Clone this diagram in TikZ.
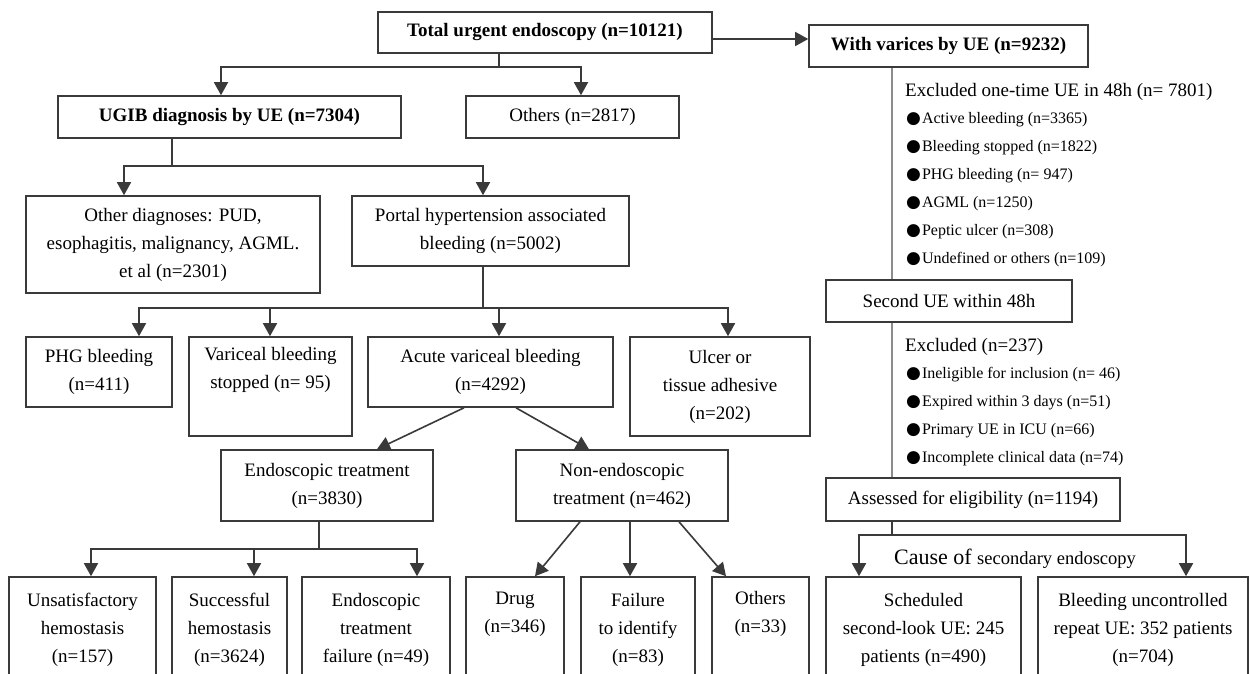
\documentclass[tikz,border=0pt]{standalone}
\usepackage{fontspec}
\setmainfont{Liberation Serif}
\newfontfamily\dejavu{DejaVu Sans}
\usetikzlibrary{arrows.meta}
\definecolor{ln}{HTML}{3A3A3A}
\definecolor{lg}{HTML}{8C8C8C}
\tikzset{
 box/.style={draw=ln, line width=1.6pt, inner sep=0pt, align=center, font=\fontsize{19}{28}\selectfont, text=black},
 bbox/.style={box, font=\fontsize{19}{28}\selectfont\bfseries},
 line/.style={draw=ln, line width=1.6pt},
 arr/.style={line, -{Triangle[width=14pt,length=13pt]}},
 thinline/.style={draw=lg, line width=1.3pt},
 hd/.style={anchor=base west, inner sep=0pt, font=\fontsize{19}{23}\selectfont},
 bl/.style={anchor=base west, inner sep=0pt, font=\fontsize{16}{19}\selectfont},
}
\newcommand{\bul}{{\dejavu\fontsize{17}{17}\selectfont ●}\hspace{1pt}}
\begin{document}
\begin{tikzpicture}[x=1pt,y=-1pt]
\useasboundingbox (0,0) rectangle (1250,673);
\fill[white] (0,0) rectangle (1250,673);
\clip (0,0) rectangle (1250,673);

% ---- boxes ----
\node[bbox, minimum width=334pt, minimum height=41pt] (total) at (545,32.5) {Total urgent endoscopy (n=10121)};
\node[bbox, minimum width=279pt, minimum height=42pt] (varices) at (948.5,46) {With varices by UE (n=9232)};
\node[bbox, minimum width=343pt, minimum height=42pt] (ugib) at (229.5,117) {UGIB diagnosis by UE (n=7304)};
\node[box, minimum width=213pt, minimum height=42pt] (oth1) at (572.5,117) {Others (n=2817)};
\node[box, minimum width=294pt, minimum height=97pt] (odiag) at (173,244.5) {Other diagnoses: PUD,\\esophagitis, malignancy, AGML.\\et al (n=2301)};
\node[box, minimum width=277pt, minimum height=70pt] (portal) at (490.5,231) {Portal hypertension associated\\bleeding (n=5002)};
\node[box, minimum width=146pt, minimum height=70pt] (phg) at (99,372) {PHG bleeding\\(n=411)};
\node[box, minimum width=163pt, minimum height=99pt] (vstop) at (270.5,386.5) {Variceal bleeding\\stopped (n= 95)\\\strut};
\node[box, minimum width=245pt, minimum height=70pt] (acute) at (490.5,372) {Acute variceal bleeding\\(n=4292)};
\node[box, minimum width=180pt, minimum height=99pt] (ulcer) at (720,386.5) {Ulcer or\\tissue adhesive\\(n=202)};
\node[box, minimum width=212pt, minimum height=71pt] (endo) at (327,485.5) {Endoscopic treatment\\(n=3830)};
\node[box, minimum width=212pt, minimum height=71pt] (nonendo) at (622,485.5) {Non-endoscopic\\treatment (n=462)};
\node[box, minimum width=147pt, minimum height=106pt] (unsat) at (82.5,630) {Unsatisfactory\\hemostasis\\(n=157)};
\node[box, minimum width=115pt, minimum height=106pt] (succ) at (229.5,630) {Successful\\hemostasis\\(n=3624)};
\node[box, minimum width=148pt, minimum height=106pt] (etf) at (376,630) {Endoscopic\\treatment\\failure (n=49)};
\node[box, minimum width=98pt, minimum height=106pt] (drug) at (515,630) {Drug\\(n=346)\\\strut};
\node[box, minimum width=114pt, minimum height=106pt] (fail) at (638,630) {Failure\\to identify\\(n=83)};
\node[box, minimum width=97pt, minimum height=106pt] (oth2) at (760.5,630) {Others\\(n=33)\\\strut};
\node[box, minimum width=246pt, minimum height=42pt] (second) at (949,301) {Second UE within 48h};
\node[box, minimum width=294pt, minimum height=43pt] (assess) at (973,499.5) {Assessed for eligibility (n=1194)};
\node[box, minimum width=195pt, minimum height=106pt] (sched) at (923.5,630) {Scheduled\\second-look UE: 245\\patients (n=490)};
\node[box, minimum width=210pt, minimum height=106pt] (bunc) at (1143,630) {Bleeding uncontrolled\\repeat UE: 352 patients\\(n=704)};

% ---- exclusion texts ----
\node[hd] (exA) at (905,96) {Excluded one-time UE in 48h (n= 7801)};
\node[bl] (exA1) at (906,123) {\bul Active bleeding (n=3365)};
\node[bl] (exA2) at (906,151) {\bul Bleeding stopped (n=1822)};
\node[bl] (exA3) at (906,179) {\bul PHG bleeding (n= 947)};
\node[bl] (exA4) at (906,207) {\bul AGML (n=1250)};
\node[bl] (exA5) at (906,235) {\bul Peptic ulcer (n=308)};
\node[bl] (exA6) at (906,263) {\bul Undefined or others (n=109)};
\node[hd] (exB) at (905,351) {Excluded (n=237)};
\node[bl] (exB1) at (906,378) {\bul Ineligible for inclusion (n= 46)};
\node[bl] (exB2) at (906,406) {\bul Expired within 3 days (n=51)};
\node[bl] (exB3) at (906,434) {\bul Primary UE in ICU (n=66)};
\node[bl] (exB4) at (906,462) {\bul Incomplete clinical data (n=74)};
\node[inner sep=0pt, anchor=base] (cause) at (1015,564) {{\fontsize{22}{22}\selectfont Cause of }{\fontsize{18.5}{22}\selectfont secondary endoscopy}};

% ---- connectors ----
\coordinate (t1) at ([yshift=-6.5pt]total.east);
\draw[arr] (t1) -- (t1 -| varices.west);

\coordinate (j1) at (499,67);
\draw[line] (j1 |- total.south) -- (j1);
\draw[arr] (j1) -| ([xshift=-8.5pt]ugib.north);
\draw[arr] (j1) -| ([xshift=8.5pt]oth1.north);

\coordinate (j2) at (172,166);
\draw[line] (j2 |- ugib.south) -- (j2);
\draw[arr] (j2) -| ([xshift=-49pt]odiag.north);
\draw[arr] (j2) -| ([xshift=-7.5pt]portal.north);

\coordinate (j3) at (483,308);
\draw[line] (j3 |- portal.south) -- (j3);
\draw[arr] (j3) -| ([xshift=40pt]phg.north);
\draw[arr] (j3) -| ([xshift=-0.5pt]vstop.north);
\draw[arr] (j3) -| ([xshift=8.5pt]acute.north);
\draw[arr] (j3) -| ([xshift=8pt]ulcer.north);

\draw[arr] ([xshift=-26.5pt]acute.south) -- ([xshift=50pt]endo.north);
\draw[arr] ([xshift=25.5pt]acute.south) -- ([xshift=-33pt]nonendo.north);

\coordinate (j4) at (319,549);
\draw[line] (j4 |- endo.south) -- (j4);
\draw[arr] (j4) -| ([xshift=8.5pt]unsat.north);
\draw[arr] (j4) -| ([xshift=24.5pt]succ.north);
\draw[arr] (j4) -| ([xshift=41pt]etf.north);

\draw[arr] ([xshift=-42pt]nonendo.south) -- ([xshift=20pt]drug.north);
\draw[arr] ([xshift=8pt]nonendo.south) -- ([xshift=-8pt]fail.north);
\draw[arr] ([xshift=57pt]nonendo.south) -- ([xshift=-34.5pt]oth2.north);

\coordinate (r0) at ([xshift=-56.5pt]varices.south);
\draw[thinline] (r0) -- (r0 |- second.north);
\draw[thinline] (r0 |- second.south) -- (r0 |- assess.north);
\coordinate (j5) at (892,535);
\draw[line] (j5 |- assess.south) -- (j5);
\draw[arr] (j5) -| ([xshift=-64.5pt]sched.north);
\draw[arr] (j5) -| ([xshift=43pt]bunc.north);
\end{tikzpicture}
\end{document}
